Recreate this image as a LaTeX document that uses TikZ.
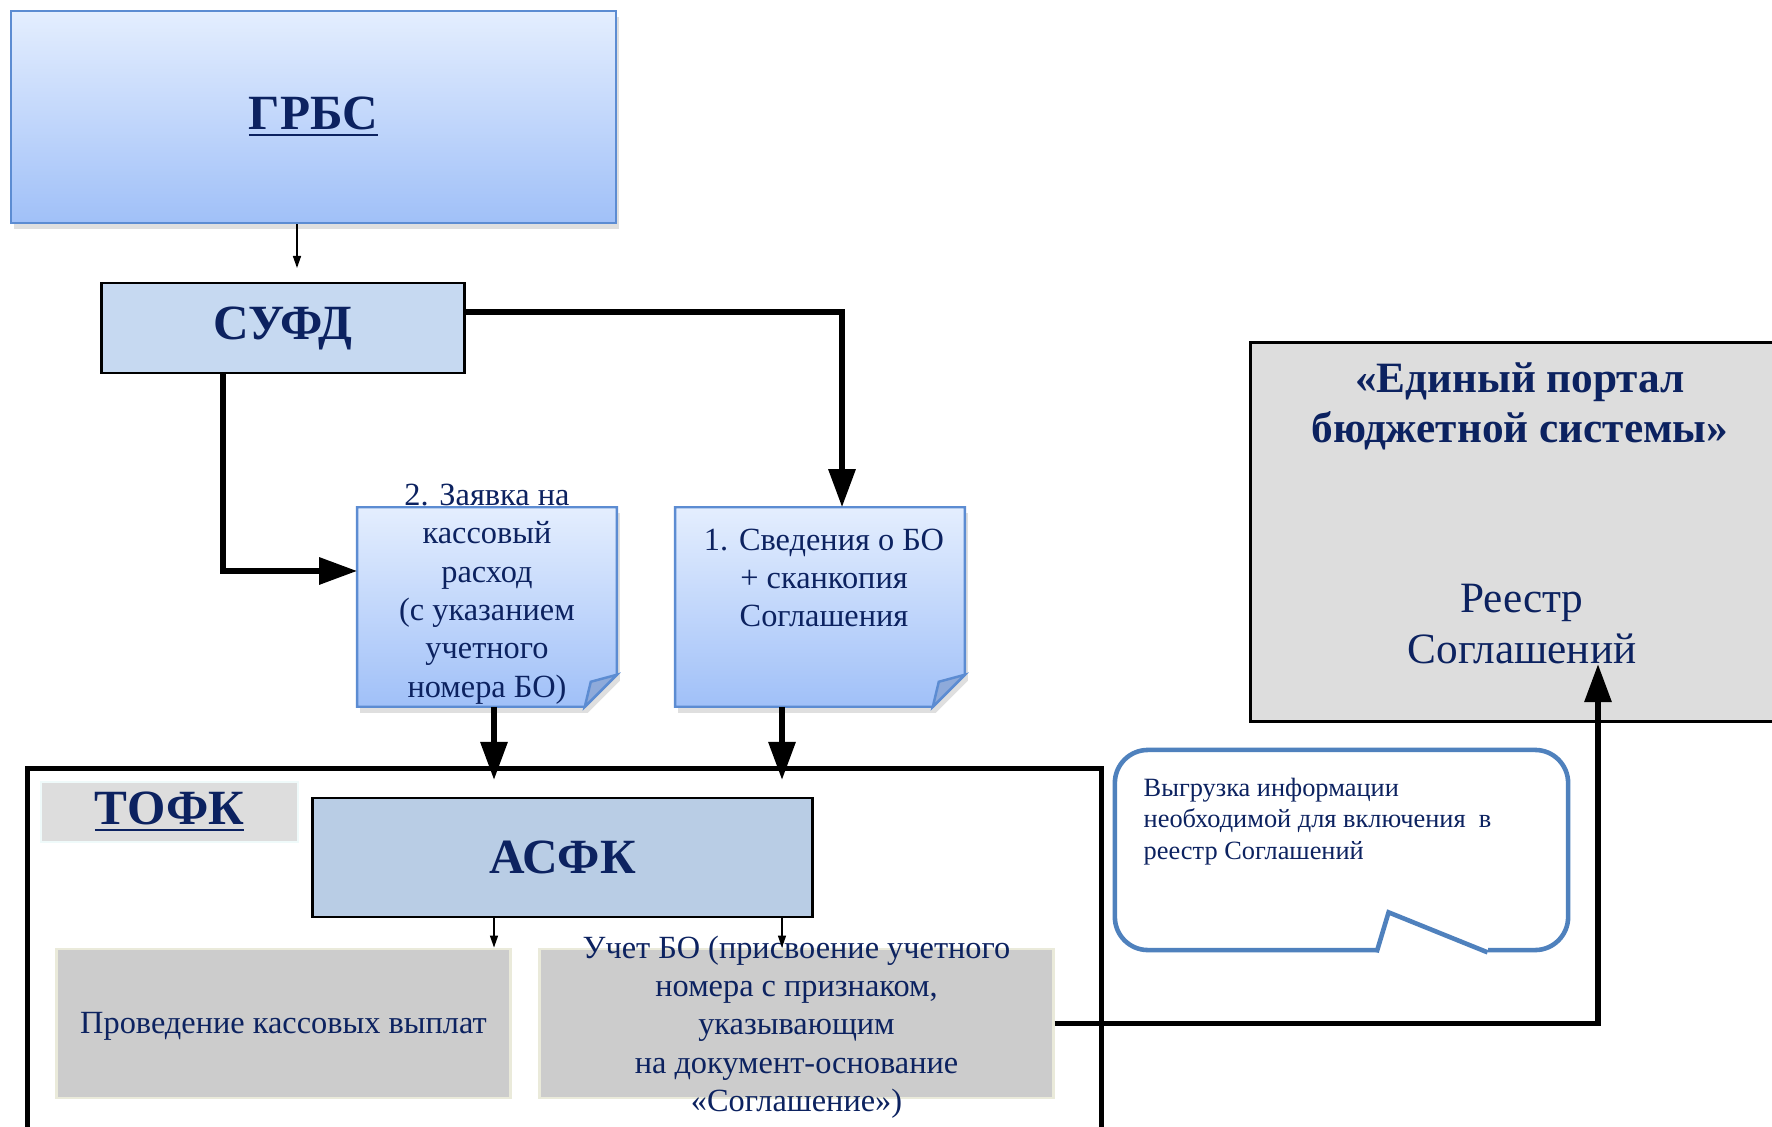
\documentclass[tikz,border=0pt]{standalone}
\usepackage{fontspec}
\setmainfont{Liberation Serif}
\usetikzlibrary{calc,arrows.meta,shadows}

\definecolor{navy}{RGB}{12,34,96}
\definecolor{gradtop}{RGB}{228,238,254}
\definecolor{gradbot}{RGB}{160,192,248}
\definecolor{docline}{RGB}{92,140,210}
\definecolor{foldcol}{RGB}{142,170,218}
\definecolor{sufdfill}{RGB}{198,217,241}
\definecolor{asfkfill}{RGB}{185,205,229}
\definecolor{lgray}{RGB}{221,221,221}
\definecolor{mgray}{RGB}{204,204,204}
\definecolor{paleedge}{RGB}{234,234,218}
\definecolor{callline}{RGB}{79,129,189}

\tikzset{
  titletext/.style={font=\bfseries\fontsize{14}{16}\selectfont, text=navy},
  bodytext/.style={font=\fontsize{9.2}{10.9}\selectfont, text=navy, align=center, inner sep=0},
  bluegrad/.style={top color=gradtop, bottom color=gradbot, draw=docline, line width=0.7pt},
  softshadow/.style={drop shadow={shadow xshift=0.03cm, shadow yshift=-0.06cm, opacity=0.25}},
  box/.style={rectangle, inner sep=0},
  graybox/.style={box, fill=mgray, draw=paleedge, line width=0.8pt},
  bigarrow/.style={line width=1.7pt, -{Triangle[length=0.38cm,width=0.26cm]}},
  thinarrow/.style={line width=0.4pt, -{Triangle[length=0.12cm,width=0.08cm]}},
}

\begin{document}
\begin{tikzpicture}[x=0.01cm,y=-0.01cm]
    \clip (0,0) rectangle (1772,1127);
    \fill[white] (0,0) rectangle (1772,1127);

    % top part
    \node[box, bluegrad, softshadow, minimum width=6.05cm, minimum height=2.12cm, titletext] (grbs) at (313.5,117) {\raisebox{-2pt}{\underline{ГРБС}}};
    \node[box, fill=sufdfill, draw=black, line width=0.8pt, minimum width=3.62cm, minimum height=0.9cm, titletext] (sufd) at (283,328) {СУФД};
    \coordinate (g1) at (297,268);
    \draw[thinarrow] (grbs.south -| g1) -- (g1);

    % documents
    \node[box, minimum width=2.58cm, minimum height=1.98cm] (doc2) at (487,607) {};
    \node[box, minimum width=2.88cm, minimum height=1.98cm] (doc1) at (820,607) {};
    \foreach \d in {doc2,doc1}{
        \path[bluegrad, softshadow] (\d.north west) -- (\d.north east) -- ($(\d.south east)-(0,32)$)
            -- ($(\d.south east)-(32,0)$) -- (\d.south west) -- cycle;
        \filldraw[fill=foldcol, draw=docline, line width=0.7pt] ($(\d.south east)-(0,32)$)
            -- ($(\d.south east)-(32,0)$) -- ($(\d.south east)-(26,25)$) -- cycle;
    }
    \node[bodytext] (doc2txt) at (487,594) {2. Заявка на\\кассовый\\расход\\(с указанием\\учетного\\номера БО)};
    \node[bodytext] (doc1txt) at (824,578) {1. Сведения о БО\\+ сканкопия\\Соглашения};

    \draw[bigarrow] ([yshift=-0.3cm]sufd.north east) -| ([xshift=0.22cm]doc1.north);
    \draw[bigarrow] ([xshift=-0.6cm]sufd.south) |- ([yshift=0.36cm]doc2.west);

    % portal
    \node[box, fill=lgray, draw=black, line width=0.8pt, minimum width=5.39cm, minimum height=3.78cm] (portal) at (1520.5,532) {};
    \node[font=\bfseries\fontsize{12.3}{14.2}\selectfont, text=navy, align=center, inner sep=0] (ptitle) at (1520,406) {«Единый портал\\бюджетной системы»};
    \node[font=\fontsize{12.3}{14.4}\selectfont, text=navy, align=center, inner sep=0] (reestr) at (1522,624) {Реестр\\Соглашений};

    % TOFK
    \node[box, draw=black, line width=1.4pt, minimum width=10.73cm, minimum height=4.2cm, anchor=north west] (tofk) at (25,766) {};
    \node[box, fill=lgray, draw=lgray!80!cyan!20, line width=0.8pt, minimum width=2.57cm, minimum height=0.6cm, titletext] (tofklbl) at (169.5,812) {\raisebox{-3pt}{\underline{ТОФК}}};
    \node[box, fill=asfkfill, draw=black, line width=0.8pt, minimum width=4.99cm, minimum height=1.19cm, titletext] (asfk) at (562.5,857.5) {АСФК};
    \node[graybox, minimum width=4.53cm, minimum height=1.49cm] (pkv) at (283.5,1023.5) {};
    \node[bodytext] at ([yshift=-0.03cm]pkv.center) {Проведение кассовых выплат};
    \node[graybox, minimum width=5.13cm, minimum height=1.49cm] (uchet) at (796.5,1023.5) {};
    \node[bodytext] (uchettxt) at (796.5,1027) {Учет БО (присвоение учетного\\номера с признаком,\\указывающим\\на документ-основание\\«Соглашение»)};

    \coordinate (in2) at (494,780);
    \coordinate (in1) at (782,780);
    \draw[bigarrow] (doc2.south -| in2) -- (in2);
    \draw[bigarrow] (doc1.south -| in1) -- (in1);
    \draw[thinarrow] (asfk.south -| in2) -- (pkv.north -| in2);
    \draw[thinarrow] (asfk.south -| in1) -- (uchet.north -| in1);

    % callout
    \node[box, draw=callline, line width=1.3pt, rounded corners=0.33cm, minimum width=4.53cm, minimum height=2.0cm] (callout) at (1341.5,850) {};
    \fill[white] ($(callout.south west)+(264,-5)$) rectangle ($(callout.south west)+(375,5)$);
    \draw[callline, line width=1.3pt, line join=miter] ($(callout.south west)+(264,0)$) -- ($(callout.south west)+(276,-40)$) -- ($(callout.south west)+(375,0)$);
    \node[font=\fontsize{7.5}{9}\selectfont, text=navy, align=left, inner sep=0, anchor=north west] (calltxt) at (1143,777) {Выгрузка информации\\необходимой для включения~~в\\реестр Соглашений};

    \coordinate (rs) at (1598,664);
    \draw[bigarrow] (uchet.east) -| (rs);
\end{tikzpicture}
\end{document}
